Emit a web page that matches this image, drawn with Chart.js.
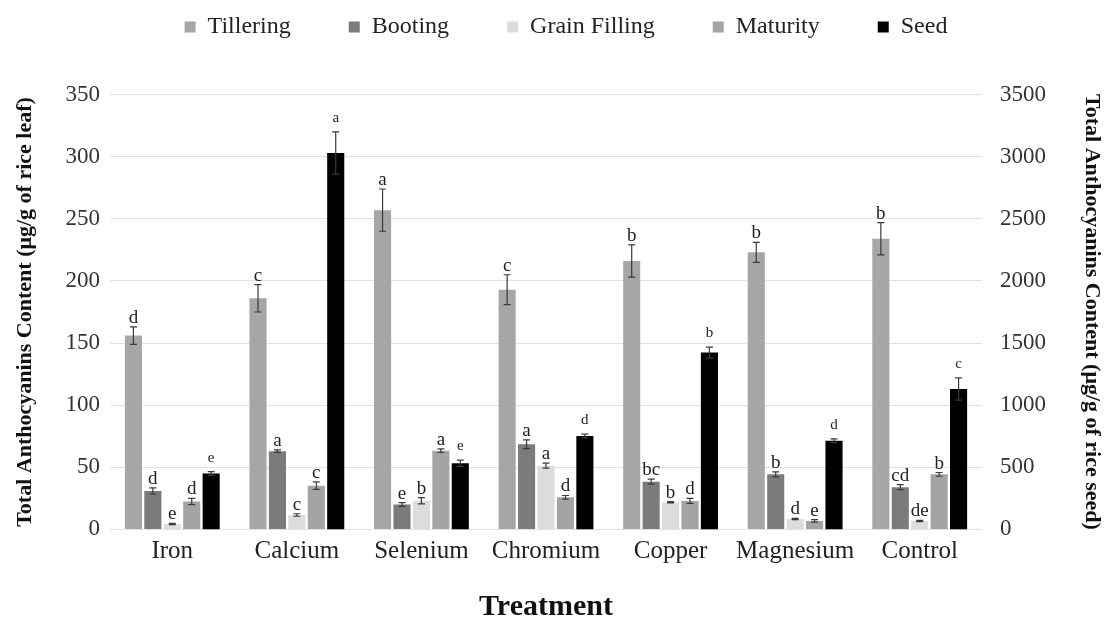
<!DOCTYPE html>
<html>
<head>
<meta charset="utf-8">
<title>Total Anthocyanins Content</title>
<script src="https://cdn.jsdelivr.net/npm/chart.js@4.4.1/dist/chart.umd.min.js"></script>
<style>
  html, body { margin: 0; padding: 0; background: #fff; }
  #wrap { width: 1104px; height: 619px; }
</style>
</head>
<body>
<div id="wrap"><canvas id="anthoChart"></canvas></div>
<script>
// Treatments on the x axis
const treatments = ["Iron", "Calcium", "Selenium", "Chromium", "Copper", "Magnesium", "Control"];

// Leaf content (µg/g), left axis
const tillering = [156, 186, 257, 193, 216, 223, 234];
const tilleringErr = [7, 11, 17, 12, 13, 8, 13];
const tilleringLetters = ["d", "c", "a", "c", "b", "b", "b"];

const booting = [31, 63, 20, 68.5, 38.4, 44.3, 34];
const bootingErr = [2.5, 1, 1.5, 3.5, 2, 2, 2];
const bootingLetters = ["d", "a", "e", "a", "bc", "b", "cd"];

const grainFilling = [4.3, 11.6, 23, 51.3, 21.8, 8.4, 6.8];
const grainFillingErr = [0.5, 1, 2.5, 2, 0.5, 0.5, 0.5];
const grainFillingLetters = ["e", "c", "b", "a", "b", "d", "de"];

const maturity = [22.5, 35.2, 63.4, 25.8, 22.9, 6.8, 44.3];
const maturityErr = [2.5, 3, 1.5, 1.5, 2, 1, 1.5];
const maturityLetters = ["d", "c", "a", "d", "d", "e", "b"];

// Seed content (µg/g), right axis
const seed = [450, 3030, 532, 752, 1423, 714, 1130];
const seedErr = [15, 170, 25, 15, 45, 15, 90];
const seedLetters = ["e", "a", "e", "d", "b", "d", "c"];

// Axis ticks
const leafMax = 350, leafStep = 50;
const seedMax = 3500, seedStep = 500;

const SERIF = "'Liberation Serif', 'Times New Roman', serif";

// error bars + significance letters
const errorBars = {
  id: "errorBars",
  afterDatasetsDraw(chart) {
    const ctx = chart.ctx;
    ctx.save();
    chart.data.datasets.forEach((ds, i) => {
      const meta = chart.getDatasetMeta(i);
      const yScale = chart.scales[meta.yAxisID];
      const isSeed = meta.yAxisID === "ySeed";
      meta.data.forEach((bar, j) => {
        const v = ds.data[j];
        const e = ds.errors[j];
        const top = yScale.getPixelForValue(v + e);
        const bottom = yScale.getPixelForValue(v - e);
        ctx.strokeStyle = "#3a3a3a";
        ctx.lineWidth = 1.2;
        ctx.beginPath();
        ctx.moveTo(bar.x, top);
        ctx.lineTo(bar.x, bottom);
        ctx.moveTo(bar.x - 3.5, top);
        ctx.lineTo(bar.x + 3.5, top);
        ctx.moveTo(bar.x - 3.5, bottom);
        ctx.lineTo(bar.x + 3.5, bottom);
        ctx.stroke();

        ctx.fillStyle = "#222";
        ctx.font = (isSeed ? "15px " : "19px ") + SERIF;
        ctx.textAlign = "center";
        ctx.textBaseline = "alphabetic";
        ctx.fillText(ds.letters[j], bar.x, top - (isSeed ? 10 : 4));
      });
    });
    ctx.restore();
  },
};

// wider gap under the legend
const legendSpacing = {
  id: "legendSpacing",
  beforeInit(chart) {
    const fit = chart.legend.fit;
    chart.legend.fit = function () {
      fit.call(this);
      this.height = 137.6;
    };
  },
};

const ctx = document.getElementById("anthoChart").getContext("2d");

new Chart(ctx, {
  type: "bar",
  data: {
    labels: treatments,
    datasets: [
      { label: "Tillering", data: tillering, errors: tilleringErr, letters: tilleringLetters, backgroundColor: "#a6a6a6", yAxisID: "yLeaf" },
      { label: "Booting", data: booting, errors: bootingErr, letters: bootingLetters, backgroundColor: "#7b7b7b", yAxisID: "yLeaf" },
      { label: "Grain Filling", data: grainFilling, errors: grainFillingErr, letters: grainFillingLetters, backgroundColor: "#dcdcdc", yAxisID: "yLeaf" },
      { label: "Maturity", data: maturity, errors: maturityErr, letters: maturityLetters, backgroundColor: "#a4a4a4", yAxisID: "yLeaf" },
      { label: "Seed", data: seed, errors: seedErr, letters: seedLetters, backgroundColor: "#000000", yAxisID: "ySeed" },
    ],
  },
  options: {
    responsive: true,
    maintainAspectRatio: false,
    animation: false,
    layout: { padding: { top: -43, right: -28, bottom: 0, left: 0 } },
    datasets: {
      bar: { categoryPercentage: 0.78, barPercentage: 0.88 },
    },
    plugins: {
      legend: {
        position: "top",
        labels: {
          boxWidth: 11,
          boxHeight: 11,
          padding: 58,
          color: "#222",
          font: { family: SERIF, size: 24 },
        },
      },
      tooltip: { enabled: false },
    },
    scales: {
      x: {
        grid: { display: false, drawTicks: false },
        border: { display: false },
        ticks: { color: "#222", padding: 7, font: { family: SERIF, size: 25 } },
        title: {
          display: true,
          text: "Treatment",
          color: "#111",
          padding: { top: 0, bottom: 0 },
          font: { family: SERIF, size: 30, weight: "bold", lineHeight: 0.8 },
        },
        afterFit(scale) { scale.height = 89.6; },
      },
      yLeaf: {
        position: "left",
        min: 0,
        max: leafMax,
        ticks: { stepSize: leafStep, color: "#333", padding: 10, font: { family: SERIF, size: 23 } },
        grid: { color: "#e2e2e2", lineWidth: 1, drawTicks: false },
        border: { display: false },
        title: {
          display: true,
          text: "Total Anthocyanins Content (μg/g of rice leaf)",
          color: "#111",
          padding: { top: 12, bottom: 0 },
          font: { family: SERIF, size: 22, weight: "bold" },
        },
        afterFit(scale) { scale.width = 110; },
      },
      ySeed: {
        position: "right",
        min: 0,
        max: seedMax,
        ticks: {
          stepSize: seedStep,
          color: "#333",
          padding: 18,
          font: { family: SERIF, size: 23 },
          callback: (value) => String(value),
        },
        grid: { display: false, drawTicks: false },
        border: { display: false },
        title: {
          display: true,
          text: "Total Anthocyanins Content (μg/g of rice seed)",
          color: "#111",
          padding: { top: 26.8, bottom: 0 },
          font: { family: SERIF, size: 22, weight: "bold" },
        },
        afterFit(scale) { scale.width = 150; },
      },
    },
  },
  plugins: [errorBars, legendSpacing],
});
</script>
</body>
</html>
